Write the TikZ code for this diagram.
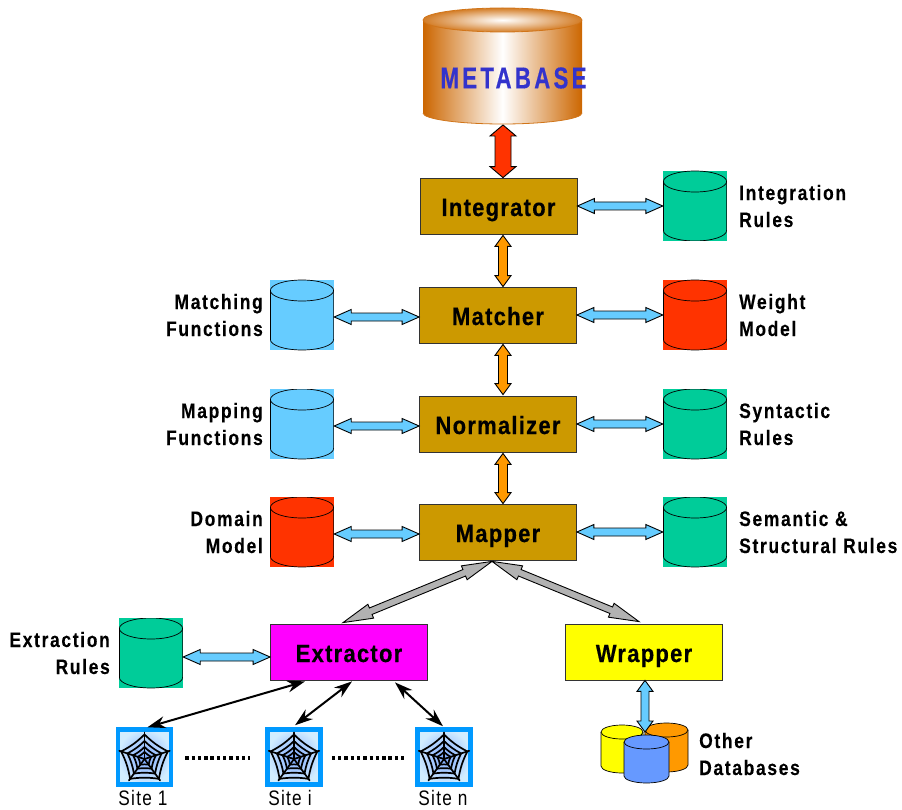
\documentclass[tikz,border=0pt]{standalone}
\usepackage{fontspec}
\usetikzlibrary{calc,arrows.meta}
\newfontfamily\boxfont[FakeStretch=0.88,LetterSpace=5,FakeBold=0.4]{Liberation Sans Bold}
\newfontfamily\labelfont[FakeStretch=0.83,LetterSpace=8,FakeBold=0.2]{Liberation Sans Bold}
\newfontfamily\basefont[FakeStretch=0.74,LetterSpace=11,FakeBold=0.4]{Liberation Sans Bold}
\newfontfamily\sitefont[FakeStretch=0.82,LetterSpace=6]{Liberation Sans}
\definecolor{procgold}{RGB}{204,153,0}
\definecolor{extractpink}{RGB}{255,0,255}
\definecolor{wrapyellow}{RGB}{255,255,0}
\definecolor{rulegreen}{RGB}{0,204,153}
\definecolor{modelred}{RGB}{255,51,0}
\definecolor{funcblue}{RGB}{102,204,255}
\definecolor{linkorange}{RGB}{255,153,0}
\definecolor{linkgray}{RGB}{178,178,178}
\definecolor{basebrown}{RGB}{204,102,0}
\definecolor{baseblue}{RGB}{51,51,204}
\definecolor{frameblue}{RGB}{0,153,255}
\definecolor{dbblue}{RGB}{102,153,255}
\tikzset{
	procbox/.style={draw=black!80,line width=0.8pt,minimum width=157pt,minimum height=56pt,inner sep=0pt,text height=20pt,text depth=0pt,font={\boxfont\fontsize{25}{30}\selectfont}},
	dbbox/.style={minimum width=64pt,minimum height=70pt,inner sep=0pt,path picture={
		\draw[line width=0.7pt] (path picture bounding box.center)+(0pt,24.5pt) ellipse [x radius=31.6pt,y radius=10.5pt];
		\draw[line width=0.7pt] ([yshift=24.5pt,xshift=0.4pt]path picture bounding box.west) -- ([yshift=-24.5pt,xshift=0.4pt]path picture bounding box.west) arc [start angle=180,end angle=360,x radius=31.6pt,y radius=10.5pt] -- ([yshift=24.5pt,xshift=-0.4pt]path picture bounding box.east);
	}},
	toptext/.style={inner sep=0pt,align=left,anchor=west,font={\labelfont\fontsize{21}{27}\selectfont}},
	lefttext/.style={inner sep=0pt,align=right,anchor=east,font={\labelfont\fontsize{21}{27}\selectfont}},
	sitebox/.style={draw=frameblue,line width=4.5pt,minimum width=53pt,minimum height=55pt,inner sep=0pt,inner color=dbblue!85,outer color=frameblue!18},
	sitetext/.style={inner sep=0pt,font={\sitefont\fontsize{21}{25}\selectfont}},
	webline/.style={line width=1.7pt,line cap=round},
	blocklink/.style={draw=black,line width=0.9pt,line join=miter},
	sitelink/.style={line width=2pt,{Stealth[length=18pt,width=12pt]}-{Stealth[length=18pt,width=12pt]}},
	dotlink/.style={line width=4pt,dash pattern=on 3.4pt off 2.9pt},
	smalldb/.style={draw=black,line width=0.7pt}
}
% #1 fill, #2 #3 ends, #4 body half width, #5 head half width, #6 head length
\newcommand{\blocklink}[6]{
	\path #2 coordinate (linka) #3 coordinate (linkb);
	\draw[blocklink,fill=#1] (linka)
		-- ($(linka)!#6!(linkb)!#5!90:(linkb)$) -- ($(linka)!#6!(linkb)!#4!90:(linkb)$)
		-- ($(linkb)!#6!(linka)!#4!-90:(linka)$) -- ($(linkb)!#6!(linka)!#5!-90:(linka)$)
		-- (linkb)
		-- ($(linkb)!#6!(linka)!#5!90:(linka)$) -- ($(linkb)!#6!(linka)!#4!90:(linka)$)
		-- ($(linka)!#6!(linkb)!#4!-90:(linkb)$) -- ($(linka)!#6!(linkb)!#5!-90:(linkb)$)
		-- cycle;
}
% #1 fill, #2 left, #3 right, #4 top of the side, #5 bottom of the side
\newcommand{\smalldb}[5]{
	\draw[smalldb,fill=#1] (#2,#4) -- (#2,#5) arc [start angle=180,end angle=360,x radius={(#3-#2)/2*1pt},y radius=7pt] -- (#3,#4);
	\draw[smalldb,fill=#1] ({(#2+#3)/2},#4) ellipse [x radius={(#3-#2)/2*1pt},y radius=7pt];
}
\begin{document}
\begin{tikzpicture}[x=1pt,y=-1pt]
	\useasboundingbox (0,0) rectangle (902,810);
	% metabase drum
	\shade[left color=basebrown,right color=basebrown,middle color=white] (423,20) -- (423,113) arc [start angle=180,end angle=360,x radius=79.5pt,y radius=11pt] -- (582,20) -- cycle;
	\draw[basebrown!90,line width=0.8pt] (423,113) arc [start angle=180,end angle=360,x radius=79.5pt,y radius=11pt];
	\shade[inner color=white,outer color=basebrown!85,draw=basebrown!90,line width=0.8pt] (502.5,20) ellipse [x radius=79.5pt,y radius=12pt];
	\coordinate (metabasefoot) at (503,125);
	\node[text=baseblue,inner sep=0pt,font={\basefont\fontsize{30}{34}\selectfont}] (metabase) at (513.5,78) {METABASE};
	% boxes
	\node[procbox,fill=procgold] (integrator) at (498.5,206) {Integrator};
	\node[procbox,fill=procgold] (matcher) at (498,315) {Matcher};
	\node[procbox,fill=procgold] (normalizer) at (498,424) {Normalizer};
	\node[procbox,fill=procgold] (mapper) at (498,532) {Mapper};
	\node[procbox,fill=extractpink] (extractor) at (349,652) {Extractor};
	\node[procbox,fill=wrapyellow] (wrapper) at (644,652) {Wrapper};
	% stores
	\node[dbbox,fill=rulegreen] (integrationrules) at (695,206) {};
	\node[dbbox,fill=modelred] (weightmodel) at (695,315) {};
	\node[dbbox,fill=rulegreen] (syntacticrules) at (695,424) {};
	\node[dbbox,fill=rulegreen] (semanticrules) at (695,532) {};
	\node[dbbox,fill=funcblue] (matchingfunctions) at (302,315) {};
	\node[dbbox,fill=funcblue] (mappingfunctions) at (302,424) {};
	\node[dbbox,fill=modelred] (domainmodel) at (302,532) {};
	\node[dbbox,fill=rulegreen] (extractionrules) at (151,653) {};
	% labels
	\node[toptext] (integrationtext) at (739,206) {Integration\\Rules};
	\node[toptext] (weighttext) at (739,315) {Weight\\Model};
	\node[toptext] (syntactictext) at (739,424) {Syntactic\\Rules};
	\node[toptext] (semantictext) at (739,532) {Semantic \&\\Structural Rules};
	\node[lefttext] (matchingtext) at (263,315) {Matching\\Functions};
	\node[lefttext] (mappingtext) at (263,424) {Mapping\\Functions};
	\node[lefttext] (domaintext) at (263,532) {Domain\\Model};
	\node[lefttext] (extractiontext) at (110,653) {Extraction\\Rules};
	\node[toptext] (othertext) at (699,754) {Other\\Databases};
	% other databases
	\smalldb{wrapyellow}{601}{643}{732}{766}
	\smalldb{linkorange}{645}{688}{730}{765}
	\coordinate (otherdbtop) at (645,732);
	\blocklink{funcblue}{([xshift=1pt]wrapper.south)}{(otherdbtop)}{4pt}{8pt}{11pt}
	\smalldb{dbblue}{624}{669}{742}{776}
	% sites
	\node[sitebox] (site1) at (144.5,757) {};
	\node[sitebox] (sitei) at (294,757) {};
	\node[sitebox] (siten) at (444,757) {};
	\foreach \sitename in {site1,sitei,siten}{
		\begin{scope}[shift={(\sitename.center)},yshift=-2pt]
			\foreach \ringsize in {24.5,18,12,7}{
				\foreach \spoke [evaluate=\spoke as \nextspoke using \spoke+72] in {18,90,162,234,306}{
					\draw[webline] (\spoke:\ringsize pt) to[bend left=8] (\nextspoke:\ringsize pt);
				}
			}
			\foreach \spoke in {18,90,162,234,306}{
				\draw[webline] (0pt,0pt) -- (\spoke:26.5pt);
			}
		\end{scope}
	}
	\node[sitetext] (site1text) at (143,798) {Site 1};
	\node[sitetext] (siteitext) at (290,798) {Site i};
	\node[sitetext] (sitentext) at (443,798) {Site n};
	% links
	\blocklink{modelred}{(metabasefoot)}{([xshift=4.5pt]integrator.north)}{8pt}{13pt}{11pt}
	\blocklink{linkorange}{([xshift=4.5pt,yshift=-1pt]integrator.south)}{([xshift=5pt]matcher.north)}{4.5pt}{8pt}{11pt}
	\blocklink{linkorange}{([xshift=5pt,yshift=-1pt]matcher.south)}{([xshift=5pt,yshift=1pt]normalizer.north)}{4.5pt}{8pt}{11pt}
	\blocklink{linkorange}{([xshift=5pt,yshift=-1pt]normalizer.south)}{([xshift=5pt]mapper.north)}{4.5pt}{8pt}{11pt}
	\blocklink{funcblue}{(integrator.east)}{(integrationrules.west)}{4pt}{7.5pt}{17pt}
	\blocklink{funcblue}{(matcher.east)}{(weightmodel.west)}{4pt}{7.5pt}{17pt}
	\blocklink{funcblue}{(normalizer.east)}{(syntacticrules.west)}{4pt}{7.5pt}{17pt}
	\blocklink{funcblue}{(mapper.east)}{(semanticrules.west)}{4pt}{7.5pt}{17pt}
	\blocklink{funcblue}{([yshift=-2pt]matchingfunctions.east)}{([yshift=-2pt]matcher.west)}{4pt}{7.5pt}{17pt}
	\blocklink{funcblue}{([yshift=-2pt]mappingfunctions.east)}{([yshift=-2pt]normalizer.west)}{4pt}{7.5pt}{17pt}
	\blocklink{funcblue}{([yshift=-2pt]domainmodel.east)}{([yshift=-2pt]mapper.west)}{4pt}{7.5pt}{17pt}
	\blocklink{funcblue}{([yshift=-4pt]extractionrules.east)}{([yshift=-5pt]extractor.west)}{4pt}{7.5pt}{17pt}
	\blocklink{linkgray}{([xshift=-6pt,yshift=-1pt]mapper.south)}{([xshift=-6pt,yshift=1pt]extractor.north)}{3.5pt}{7.5pt}{30pt}
	\blocklink{linkgray}{([xshift=-6pt,yshift=-1pt]mapper.south)}{([xshift=-5pt,yshift=2pt]wrapper.north)}{3.5pt}{7.5pt}{30pt}
	\draw[sitelink] ([xshift=3pt]site1.north) -- ([xshift=-44pt,yshift=-1pt]extractor.south);
	\draw[sitelink] ([xshift=1pt,yshift=2pt]sitei.north) -- ([xshift=3pt,yshift=-1pt]extractor.south);
	\draw[sitelink] ([xshift=-1pt,yshift=1pt]siten.north) -- ([xshift=46pt,yshift=-2pt]extractor.south);
	\draw[dotlink,shorten <=12pt,shorten >=15pt] ([yshift=-1pt]site1.east) -- ([yshift=-1pt]sitei.west);
	\draw[dotlink,shorten <=9pt,shorten >=11pt] ([yshift=-1pt]sitei.east) -- ([yshift=-1pt]siten.west);
\end{tikzpicture}
\end{document}
